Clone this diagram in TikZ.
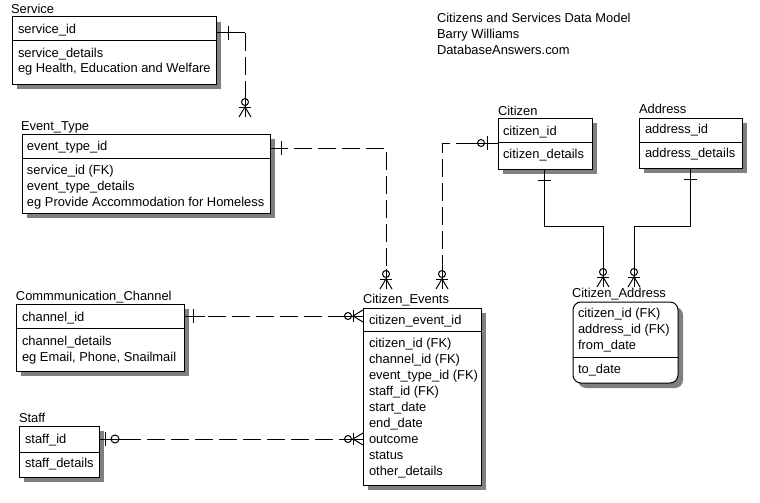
\documentclass[tikz,border=0pt]{standalone}
\usepackage{fontspec}
\setmainfont{Liberation Sans}
\usetikzlibrary{calc}
\newcommand{\entbox}[6]{%
  \fill[shad] (#2+5,#3+5) rectangle (#4+5,#5+5);
  \node[ebox, minimum width={#4pt-#2pt}, minimum height={#5pt-#3pt}] (#1) at (#2,#3) {};
  \draw (#2,#6) -- (#4,#6);}
\begin{document}
\begin{tikzpicture}[x=1pt,y=-1pt, line width=1pt,
  ebox/.style={draw, fill=white, inner sep=0pt, outer sep=0pt, anchor=north west},
  shad/.style={fill=black!50},
  lbl/.style={anchor=base west, inner sep=0pt, outer sep=0pt, font=\fontsize{12.9}{14}\selectfont},
  dsh/.style={dash pattern=on 18pt off 6pt},
  zmany/.pic={\draw (0,-20)--(0,0); \draw (0,-15) circle[radius=3.5]; \draw (-6,-10)--(6,-10); \draw (-6,0)--(0,-10)--(6,0);}
]
\useasboundingbox (0,0) rectangle (760,503);
\fill[white] (0,0) rectangle (760,503);

% ---------- title ----------
\node[lbl] (t1) at (437,23) {Citizens and Services Data Model};
\node[lbl] (t2) at (437,39) {Barry Williams};
\node[lbl] (t3) at (437,55) {DatabaseAnswers.com};

% ---------- Service ----------
\node[lbl] (serviceT) at (11,14) {Service};
\entbox{service}{12}{17}{216}{84}{41}
\node[lbl] at (18,34) {service\_id};
\node[lbl] at (18,57) {service\_details};
\node[lbl] at (18,73) {eg Health, Education and Welfare};

% ---------- Event_Type ----------
\node[lbl] (eventtypeT) at (21,130) {Event\_Type};
\entbox{eventtype}{22}{134}{270}{213}{158}
\node[lbl] at (27,150) {event\_type\_id};
\node[lbl] at (27,174) {service\_id (FK)};
\node[lbl] at (27,190) {event\_type\_details};
\node[lbl] at (27,206) {eg Provide Accommodation for Homeless};

% ---------- Commmunication_Channel ----------
\node[lbl] (channelT) at (16,300) {Commmunication\_Channel};
\entbox{channel}{16}{304}{184}{371}{328}
\node[lbl] at (22,321) {channel\_id};
\node[lbl] at (22,345) {channel\_details};
\node[lbl] at (22,361) {eg Email, Phone, Snailmail};

% ---------- Staff ----------
\node[lbl] (staffT) at (19,422) {Staff};
\entbox{staff}{19}{426}{99}{477}{452}
\node[lbl] at (25,443) {staff\_id};
\node[lbl] at (25,467) {staff\_details};

% ---------- Citizen_Events ----------
\node[lbl] (ceventsT) at (363,303) {Citizen\_Events};
\entbox{cevents}{363}{308}{481}{485}{331}
\node[lbl] at (369,324) {citizen\_event\_id};
\foreach \t [count=\i from 0] in {citizen\_id (FK),channel\_id (FK),event\_type\_id (FK),staff\_id (FK),start\_date,end\_date,outcome,status,other\_details}
  \node[lbl] at (369,347+16*\i) {\t};

% ---------- Citizen ----------
\node[lbl] (citizenT) at (498,115) {Citizen};
\entbox{citizen}{498}{118}{592}{169}{142}
\node[lbl] at (503,135) {citizen\_id};
\node[lbl] at (503,158) {citizen\_details};

% ---------- Address ----------
\node[lbl] (addressT) at (639,113) {Address};
\entbox{address}{639}{118}{742}{168}{142}
\node[lbl] at (645,133) {address\_id};
\node[lbl] at (645,157) {address\_details};

% ---------- Citizen_Address (rounded) ----------
\node[lbl] (caddrT) at (572,297) {Citizen\_Address};
\fill[shad, rounded corners=8pt] (578,307) rectangle (683,388);
\node[ebox, rounded corners=8pt, minimum width=105pt, minimum height=81pt] (caddr) at (573,302) {};
\draw (573,357) -- (678,357);
\node[lbl] at (578,317) {citizen\_id (FK)};
\node[lbl] at (578,333) {address\_id (FK)};
\node[lbl] at (578,349) {from\_date};
\node[lbl] at (578,373) {to\_date};

% ---------- connectors ----------
% Service -> Event_Type
\coordinate (a1) at ($(service.north east)+(0,16)$);
\coordinate (a2) at ($(eventtype.north west)+(223,-17)$);
\draw (a1) -- (a1 -| a2);
\draw[dsh] (a1 -| a2) -- (a2);
\draw ($(a1)+(12,-7)$) -- ($(a1)+(12,7)$);
\pic at (a2) {zmany};

% Event_Type -> Citizen_Events
\coordinate (b1) at ($(eventtype.north east)+(0,14)$);
\coordinate (b2) at ($(cevents.north west)+(23,-19)$);
\draw[dsh] (b1) -- (b1 -| b2) -- (b2);
\draw (b1) -- ++(14,0);
\draw ($(b1)+(11,-7)$) -- ($(b1)+(11,7)$);
\pic at (b2) {zmany};

% Citizen -> Citizen_Events
\coordinate (c1) at ($(citizen.north west)+(0,25)$);
\coordinate (c2) at ($(cevents.north west)+(79,-19)$);
\draw[dsh] (c1) -- (c1 -| c2) -- (c2);
\draw (c1) -- ++(-25,0);
\draw ($(c1)+(-17,0)$) circle[radius=3.5];
\draw ($(c1)+(-11,-7)$) -- ($(c1)+(-11,7)$);
\pic at (c2) {zmany};

% Commmunication_Channel -> Citizen_Events
\coordinate (d1) at ($(channel.north east)+(0,12)$);
\coordinate (d2) at (cevents.west |- d1);
\draw[dsh] (d1) -- (d2);
\draw (d1) -- ++(21,0);
\draw ($(d1)+(9,-7)$) -- ($(d1)+(9,7)$);
\pic[rotate=90] at (d2) {zmany};

% Staff -> Citizen_Events
\coordinate (e1) at ($(staff.north east)+(0,13)$);
\coordinate (e2) at (cevents.west |- e1);
\draw[dsh] (e1) -- (e2);
\draw (e1) -- ++(28,0);
\draw ($(e1)+(6,-7)$) -- ($(e1)+(6,7)$);
\draw[fill=white] ($(e1)+(16,0)$) circle[radius=4];
\draw ($(e1)+(12,0)$) -- ($(e1)+(28,0)$);
\pic[rotate=90] at (e2) {zmany};

% Citizen -> Citizen_Address
\coordinate (f1) at ($(citizen.south west)+(46,0)$);
\coordinate (f2) at ($(caddr.north west)+(30,-15)$);
\draw (f1) -- ($(f1)+(0,57)$) -| (f2);
\draw ($(f1)+(-6,11)$) -- ($(f1)+(7,11)$);
\pic at (f2) {zmany};

% Address -> Citizen_Address
\coordinate (g1) at ($(address.south west)+(51,0)$);
\coordinate (g2) at ($(caddr.north west)+(61,-15)$);
\draw (g1) -- ($(g1)+(0,58)$) -| (g2);
\draw ($(g1)+(-6,11)$) -- ($(g1)+(7,11)$);
\pic at (g2) {zmany};
\end{tikzpicture}
\end{document}
